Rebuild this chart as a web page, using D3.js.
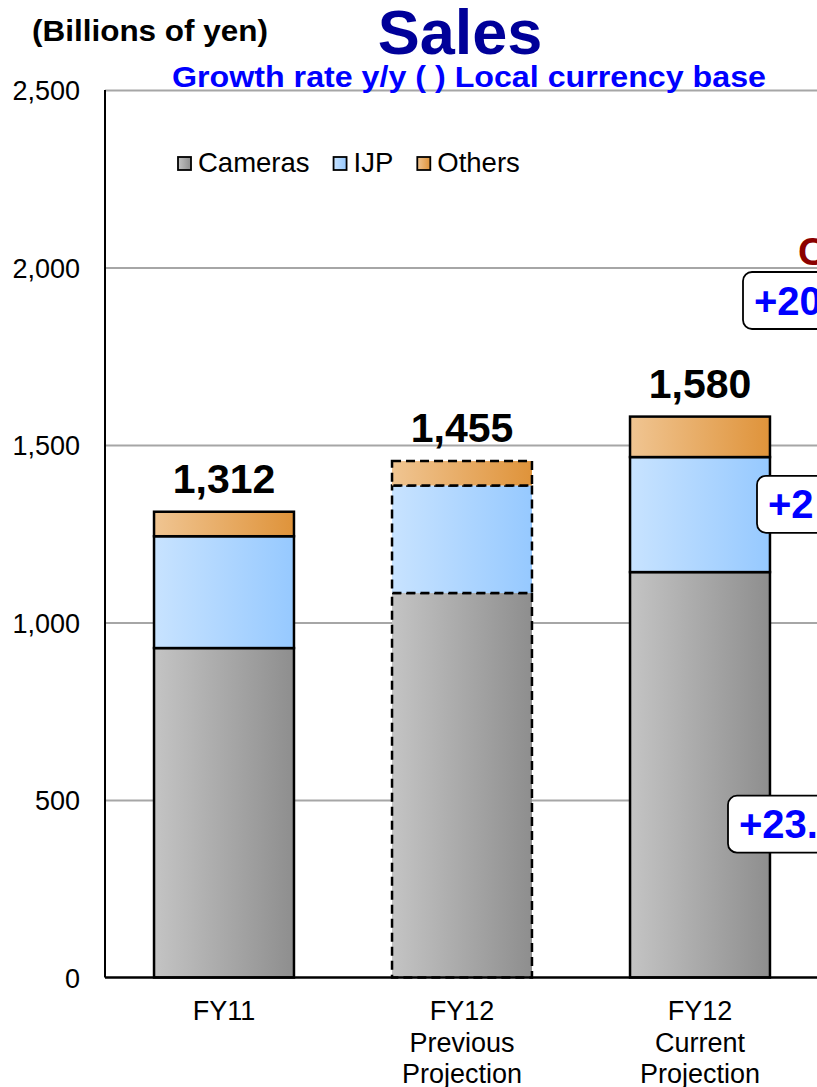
<!DOCTYPE html>
<html>
<head>
<meta charset="utf-8">
<script src="https://cdn.jsdelivr.net/npm/d3@7"></script>
<style>
  body { margin: 0; background: #fff; }
  text { font-family: "Liberation Sans", Arial, sans-serif; }
</style>
</head>
<body>
<script>
// values (billions of yen)
const categories = ['FY11', 'FY12 Previous', 'FY12 Current']
const categoryLines = [['FY11'], ['FY12', 'Previous', 'Projection'], ['FY12', 'Current', 'Projection']]
const cameras = [928, 1083, 1142]
const ijp = [315, 303, 324]
const others = [69, 69, 114]
const totalLabels = ['1,312', '1,455', '1,580']
const yTicks = [0, 500, 1000, 1500, 2000, 2500]
const seriesNames = ['Cameras', 'IJP', 'Others']
const dashed = [false, true, false]

// callouts of the part of the slide that is cut off on the right
const callouts = [
  { text: '+20', value: 1907, x: 743 },
  { text: '+2', value: 1333, x: 757 },
  { text: '+23.', value: 432, x: 728 }
]

const w = 817
const h = 1087
const plotLeft = 105
const plotTop = 90
const plotBottom = 977.5

const svg = d3.select('body').append('svg')
  .attr('width', w)
  .attr('height', h)

const defs = svg.append('defs')
const gradColors = {
  Cameras: ['#c4c4c4', '#8e8e8e'],
  IJP: ['#c8e3ff', '#96c9ff'],
  Others: ['#f0c592', '#df933a']
}
seriesNames.forEach(name => {
  const g = defs.append('linearGradient').attr('id', 'grad-' + name)
    .attr('x1', '0%').attr('x2', '100%').attr('y1', '0%').attr('y2', '0%')
  g.append('stop').attr('offset', '0%').attr('stop-color', gradColors[name][0])
  g.append('stop').attr('offset', '100%').attr('stop-color', gradColors[name][1])
})

const x = d3.scaleBand()
  .domain(categories)
  .range([plotLeft, plotLeft + 3 * 238])
  .paddingInner(0.412)
  .paddingOuter(0.206)

const y = d3.scaleLinear()
  .domain([0, 2500])
  .range([plotBottom, plotTop])

// grid + tick labels
const yAxis = d3.axisLeft(y)
  .tickValues(yTicks)
  .tickFormat(d3.format(','))
  .tickSize(-(w - plotLeft))
  .tickPadding(25)

const gy = svg.append('g')
  .attr('transform', `translate(${plotLeft}, 0)`)
  .call(yAxis)
gy.select('.domain').remove()
gy.selectAll('line')
  .attr('stroke', '#a6a6a6')
  .attr('stroke-width', 2)
  .filter(d => d === 0).remove()
gy.selectAll('text')
  .attr('font-size', 27)
  .attr('fill', '#000')
  .attr('dy', '0.36em')

// stacked bars
const table = categories.map((c, i) => ({ cat: c, Cameras: cameras[i], IJP: ijp[i], Others: others[i] }))
const stacked = d3.stack().keys(seriesNames)(table)

stacked.forEach(layer => {
  svg.append('g').selectAll('rect')
    .data(layer)
    .enter()
    .append('rect')
    .attr('x', d => x(d.data.cat))
    .attr('y', d => y(d[1]))
    .attr('width', x.bandwidth())
    .attr('height', d => y(d[0]) - y(d[1]))
    .attr('fill', `url(#grad-${layer.key})`)
    .attr('stroke', '#000')
    .attr('stroke-width', 2.5)
    .attr('stroke-dasharray', (d, i) => dashed[i] ? '9,5' : null)
})

// axis lines
svg.append('line')
  .attr('x1', plotLeft).attr('x2', plotLeft)
  .attr('y1', y(2500)).attr('y2', plotBottom)
  .attr('stroke', '#000').attr('stroke-width', 2)
svg.append('line')
  .attr('x1', plotLeft).attr('x2', w)
  .attr('y1', plotBottom).attr('y2', plotBottom)
  .attr('stroke', '#000').attr('stroke-width', 2.5)

// total labels
svg.append('g').selectAll('text')
  .data(table)
  .enter()
  .append('text')
  .attr('x', d => x(d.cat) + x.bandwidth() / 2)
  .attr('y', d => y(d.Cameras + d.IJP + d.Others) - 19)
  .attr('text-anchor', 'middle')
  .attr('font-size', 41)
  .attr('font-weight', 'bold')
  .text((d, i) => totalLabels[i])

// category labels
categories.forEach((c, i) => {
  const t = svg.append('text')
    .attr('text-anchor', 'middle')
    .attr('font-size', 27)
  categoryLines[i].forEach((line, j) => {
    t.append('tspan')
      .attr('x', x(c) + x.bandwidth() / 2)
      .attr('y', 1020 + j * 31.5)
      .text(line)
  })
})

// legend
let lx = 178
seriesNames.forEach(name => {
  svg.append('rect')
    .attr('x', lx).attr('y', 157)
    .attr('width', 13).attr('height', 13)
    .attr('fill', `url(#grad-${name})`)
    .attr('stroke', '#000').attr('stroke-width', 1.8)
  const t = svg.append('text')
    .attr('x', lx + 20).attr('y', 172)
    .attr('font-size', 27.5)
    .text(name)
  lx = lx + 20 + t.node().getComputedTextLength() + 24
})

// titles
svg.append('text')
  .attr('x', 32).attr('y', 41)
  .attr('font-size', 30).attr('font-weight', 'bold')
  .attr('textLength', 236).attr('lengthAdjust', 'spacingAndGlyphs')
  .text('(Billions of yen)')

svg.append('text')
  .attr('x', 460).attr('y', 54)
  .attr('text-anchor', 'middle')
  .attr('font-size', 63).attr('font-weight', 'bold')
  .attr('fill', '#000099')
  .text('Sales')

svg.append('text')
  .attr('x', 172).attr('y', 87)
  .attr('font-size', 30).attr('font-weight', 'bold')
  .attr('fill', '#0000ff')
  .attr('textLength', 594).attr('lengthAdjust', 'spacingAndGlyphs')
  .text('Growth rate y/y  ( ) Local currency base')

// callouts
callouts.forEach(c => {
  const cy = y(c.value)
  svg.append('rect')
    .attr('x', c.x).attr('y', cy - 28.5)
    .attr('width', 200).attr('height', 57)
    .attr('rx', 9)
    .attr('fill', '#fff')
    .attr('stroke', '#000').attr('stroke-width', 1.8)
  svg.append('text')
    .attr('x', c.x + 11).attr('y', cy + 14)
    .attr('font-size', 40).attr('font-weight', 'bold')
    .attr('fill', '#0000ff')
    .text(c.text)
})

svg.append('text')
  .attr('x', 798).attr('y', 265)
  .attr('font-size', 39).attr('font-weight', 'bold')
  .attr('fill', '#8b0000')
  .text('C')
</script>
</body>
</html>
